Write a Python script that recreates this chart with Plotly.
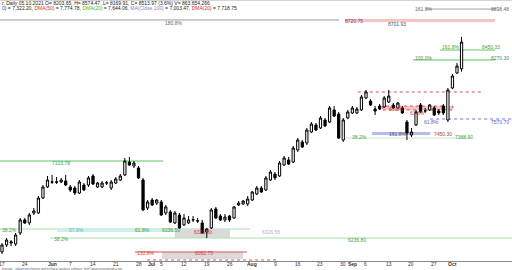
import plotly.graph_objects as go
import pandas as pd

# ---- data -------------------------------------------------------------
dates = pd.bdate_range('2021-05-17', '2021-10-05')

open_ = [6075, 6156, 6179, 6168, 6296, 6447, 6412, 6528, 6528, 6702,
         6830, 6886, 6890, 6888, 6900, 6830, 6818, 6760, 6853, 6853,
         6958, 6830, 6830, 6876, 6818, 6876, 6911, 6970, 7120, 7074,
         7051, 6911, 6586, 6679, 6644, 6656, 6528, 6540, 6412, 6505,
         6389, 6412, 6447, 6435, 6412, 6307, 6354, 6575, 6493, 6447,
         6493, 6470, 6621, 6633, 6633, 6679, 6749, 6818, 6795, 6911,
         6981, 6958, 7086, 7144, 7120, 7260, 7353, 7341, 7469, 7551,
         7516, 7609, 7585, 7725, 7678, 7376, 7632, 7690, 7690, 7725,
         7864, 7829, 7736, 7771, 7760, 7818, 7783, 7748, 7748, 7585,
         7434, 7551, 7783, 7713, 7725, 7748, 7713, 7771, 7609, 7980,
         8155, 8203.65]
high = [6179, 6237, 6214, 6296, 6470, 6470, 6528, 6586, 6725, 6853,
        6958, 6970, 6946, 6935, 6970, 6853, 6842, 6911, 6876, 6958,
        6981, 6888, 6900, 6900, 6911, 6946, 6981, 7167, 7179, 7132,
        7074, 6935, 6679, 6702, 6691, 6679, 6621, 6563, 6551, 6528,
        6516, 6493, 6493, 6470, 6447, 6354, 6586, 6598, 6516, 6516,
        6505, 6609, 6667, 6679, 6725, 6784, 6842, 6842, 6958, 7028,
        7004, 7132, 7190, 7179, 7306, 7399, 7376, 7516, 7585, 7574,
        7655, 7632, 7771, 7771, 7702, 7632, 7725, 7771, 7760, 7899,
        7957, 7852, 7771, 7795, 7887, 7957, 7806, 7818, 7771, 7609,
        7516, 7725, 7806, 7748, 7795, 7771, 7736, 7795, 7980, 8143,
        8271, 8574.47]
low = [6051, 6133, 6144, 6144, 6272, 6400, 6389, 6505, 6516, 6691,
       6818, 6865, 6865, 6876, 6842, 6772, 6737, 6749, 6784, 6830,
       6853, 6818, 6818, 6853, 6795, 6865, 6900, 6958, 7074, 7051,
       6923, 6551, 6563, 6609, 6621, 6493, 6505, 6412, 6400, 6342,
       6377, 6400, 6423, 6412, 6284, 6237, 6342, 6458, 6435, 6423,
       6423, 6458, 6609, 6621, 6609, 6667, 6737, 6760, 6784, 6900,
       6911, 6946, 7074, 7086, 7109, 7237, 7283, 7318, 7458, 7481,
       7504, 7527, 7574, 7643, 7388, 7353, 7620, 7678, 7678, 7713,
       7852, 7771, 7667, 7725, 7748, 7806, 7736, 7736, 7678, 7376,
       7411, 7539, 7690, 7690, 7713, 7655, 7667, 7667, 7585, 7968,
       8143, 8169.91]
close = [6156, 6214, 6191, 6272, 6447, 6412, 6505, 6551, 6702, 6830,
         6911, 6890, 6885, 6911, 6853, 6795, 6760, 6888, 6795, 6935,
         6865, 6876, 6876, 6878, 6888, 6923, 6958, 7132, 7086, 7109,
         6935, 6563, 6656, 6621, 6679, 6505, 6598, 6423, 6528, 6354,
         6470, 6447, 6450, 6437, 6296, 6342, 6563, 6470, 6447, 6481,
         6447, 6598, 6644, 6667, 6691, 6772, 6818, 6772, 6935, 7004,
         6935, 7109, 7167, 7097, 7283, 7376, 7295, 7492, 7562, 7492,
         7632, 7539, 7748, 7655, 7399, 7609, 7702, 7748, 7736, 7876,
         7934, 7783, 7713, 7736, 7864, 7887, 7748, 7806, 7690, 7458,
         7469, 7702, 7702, 7715, 7783, 7667, 7690, 7690, 7957, 8120,
         8236, 8513.97]

tick_dates = ['2021-05-17', '2021-05-24', '2021-06-01', '2021-06-07', '2021-06-14',
              '2021-06-21', '2021-06-28', '2021-07-01', '2021-07-05', '2021-07-12',
              '2021-07-19', '2021-07-26', '2021-08-02', '2021-08-09', '2021-08-16',
              '2021-08-23', '2021-08-30', '2021-09-01', '2021-09-06', '2021-09-13',
              '2021-09-20', '2021-09-27', '2021-10-01']
tick_text = ['17', '24', '<b>Jun</b>', '7', '14', '21', '28', '<b>Jul</b>', '5', '12',
             '19', '26', '<b>Aug</b>', '9', '16', '23', '30', '<b>Sep</b>', '6', '13',
             '20', '27', '<b>Oct</b>']

# ---- figure -----------------------------------------------------------
idx = list(range(len(dates)))
tick_vals = [dates.get_loc(pd.Timestamp(d)) for d in tick_dates]

fig = go.Figure(go.Candlestick(
    x=idx, open=open_, high=high, low=low, close=close,
    increasing=dict(line=dict(color='black', width=1), fillcolor='white'),
    decreasing=dict(line=dict(color='black', width=1), fillcolor='black'),
    whiskerwidth=0, showlegend=False, hoverinfo='skip'))

FONT = 'Liberation Sans'
GREEN = '#5cc45c'
GREEN_T = '#3f9f3f'
RED = '#e05050'
PINK = '#f7c4c4'
BLUE = '#7070e0'
GRAYBOX = '#dadada'
PH = 261  # plot-area height in px
XR = 111.9  # right edge of the plot in index units


def hline(y, x0, x1, color, width=1, dash='solid'):
    fig.add_shape(type='line', xref='x', yref='y', x0=x0, x1=x1, y0=y, y1=y,
                  line=dict(color=color, width=width, dash=dash), layer='below')


def band(y0, y1, x0, x1, fill, line_color=None, dash='solid'):
    fig.add_shape(type='rect', xref='x', yref='y', x0=x0, x1=x1, y0=y0, y1=y1,
                  fillcolor=fill, line=dict(color=line_color or fill, width=1 if line_color else 0, dash=dash),
                  layer='below')


def label(text, x, y, color, anchor='left'):
    fig.add_annotation(text=text, x=x, y=y, xref='x', yref='y', xanchor=anchor, yanchor='middle',
                       showarrow=False, font=dict(family=FONT, size=5, color=color))


# top levels
hline(8771, -0.5, 74.1, '#9a9aae')
band(8747, 8782, 75.4, 108.4, PINK)
hline(8898, 93.2, 108.6, '#9aa89a')
hline(8422, 96.3, 108.4, GREEN)
hline(8306, 90.3, 108.4, GREEN)
hline(7934, 78.2, 105.5, RED, dash='dot')
band(7725, 7771, 83.7, 99.1, PINK, line_color=RED, dash='dot')
hline(7620, 94.1, 112.2, BLUE, dash='dot')
band(7434, 7469, 81.3, 94.1, '#b8b8f2')
hline(7399, 75.4, 102.9, '#c8e8c8')
# left levels
hline(7132, -0.5, 35.4, GREEN)
hline(6342, -0.5, 54.5, '#a8e0a8')
band(6307, 6342, 12.1, 38.0, '#cdeeee')
band(6237, 6342, 38.0, 50.1, GRAYBOX)
hline(6237, 10.5, 112.2, '#a8e0a8')
band(5994, 6075, 35.2, 53.0, GRAYBOX)
hline(6075, 29.2, 53.8, RED)
hline(5982, 31.9, 60.2, RED, dash='dot')

labels = [
    ('180.8%', 35.4, 8736, '#666677', 'left'),
    ('8720.75', 74.9, 8759, '#7a3a6a', 'left'),
    ('8701.93', 84.4, 8724, '#555555', 'left'),
    ('161.8%', 90.3, 8898, '#666666', 'left'),
    ('8898.48', XR, 8898, '#666666', 'right'),
    ('161.8%', 96.3, 8457, GREEN_T, 'left'),
    ('8450.33', 105.1, 8457, GREEN_T, 'left'),
    ('100.0%', 90.3, 8329, '#5a8a5a', 'left'),
    ('8270.30', XR, 8329, '#5a8a5a', 'right'),
    ('61.8%', 84.6, 7736, '#c04040', 'left'),
    ('61.8%', 89.2, 7690, '#c04040', 'left'),
    ('61.8%', 92.3, 7585, '#5a5ad0', 'left'),
    ('7570.70', XR, 7585, '#5a5ad0', 'right'),
    ('161.8%', 84.6, 7446, '#555555', 'left'),
    ('7450.30', 94.5, 7446, '#a04040', 'left'),
    ('7388.90', 99.1, 7411, GREEN_T, 'left'),
    ('38.2%', 76.5, 7411, GREEN_T, 'left'),
    ('7103.78', 10.5, 7109, GREEN_T, 'left'),
    ('38.2%', -0.4, 6330, GREEN_T, 'left'),
    ('57.8%', 14.3, 6330, '#60c0c0', 'left'),
    ('61.8%', 28.8, 6330, GREEN_T, 'left'),
    ('6336.50', 34.7, 6330, GREEN_T, 'left'),
    ('6323.80', 41.8, 6307, '#d04040', 'left'),
    ('6326.55', 56.7, 6307, '#b0b0d0', 'left'),
    ('38.2%', 11.0, 6226, GREEN_T, 'left'),
    ('6236.80', 75.6, 6214, GREEN_T, 'left'),
    ('130.8%', 29.2, 6063, '#d04040', 'left'),
    ('6082.75', 42.0, 6063, '#d04040', 'left'),
]
for t, x, y, c, a in labels:
    label(t, x, y, c, a)

# x tick labels (placed just under the axis line)
for tv, tt in zip(tick_vals, tick_text):
    fig.add_annotation(text=tt, x=tv, y=-2.9 / PH, xref='x', yref='paper', xanchor='center',
                       yanchor='middle', showarrow=False,
                       font=dict(family=FONT, size=5, color='#333333'))

# header and footer
fig.add_annotation(text='r, Daily 05.10.2021 O= 8203.65, H= 8574.47, L= 8169.91, C= 8513.97 (3.6%) V= 863,654,266',
                   x=0, y=1 - 3 / PH, xref='paper', yref='paper', xanchor='left', yanchor='middle',
                   showarrow=False, font=dict(family=FONT, size=5, color='#222'))
fig.add_annotation(text="<span style='color:#4040c0'>0)</span> = 7,322.20, "
                        "<span style='color:#d03030'>DMA(50)</span> = 7,774.78, "
                        "<span style='color:#30c030'>DMA(20)</span> = 7,644.06, "
                        "<span style='color:#8080d0'>MA(Close,100)</span> = 7,003.47, "
                        "<span style='color:#d03030'>DMA(20)</span> = 7,718.75",
                   x=0, y=1 - 8 / PH, xref='paper', yref='paper', xanchor='left', yanchor='middle',
                   showarrow=False, font=dict(family=FONT, size=5, color='#222'))
fig.add_annotation(text='Investar - advanced charting and technical analysis software. http://www.investarindia.com',
                   x=0, y=-7.6 / PH, xref='paper', yref='paper', xanchor='left', yanchor='middle',
                   showarrow=False, font=dict(family=FONT, size=3, color='#666'))
fig.add_shape(type='line', xref='paper', yref='paper', x0=0, x1=1, y0=1, y1=1,
              line=dict(color='#aaaaaa', width=1))

fig.update_layout(
    width=512, height=270, margin=dict(l=0, r=0, t=0, b=9),
    paper_bgcolor='white', plot_bgcolor='white', showlegend=False,
    boxgap=0.3,
    xaxis=dict(range=[-0.44, 112.09], rangeslider=dict(visible=False), showgrid=False,
               zeroline=False, showline=True, linecolor='#888888', linewidth=1,
               ticks='', tickvals=tick_vals, showticklabels=False, automargin=False),
    yaxis=dict(range=[5970, 9003], visible=False, showgrid=False, zeroline=False),
)

fig.write_html('out.html')
